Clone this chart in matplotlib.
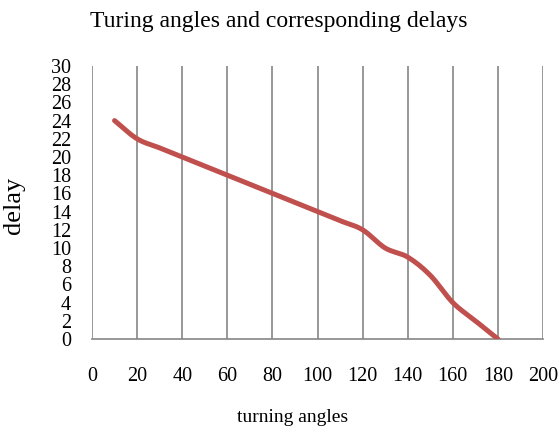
import numpy as np
import matplotlib.pyplot as plt

plt.rcParams['font.family'] = ['Liberation Serif', 'DejaVu Serif']

# data
angles = [10, 20, 30, 40, 50, 60, 70, 80, 90, 100, 110, 120, 130, 140, 150, 160, 170, 180]
delays = [24, 22, 21, 20, 19, 18, 17, 16, 15, 14, 13, 12, 10, 9, 7, 4, 2, 0]
xticks = list(range(0, 201, 20))
yticks = list(range(0, 31, 2))


def smooth(x, y, n=20):
    # Catmull-Rom style curve through the points (like a spreadsheet smoothed line)
    x = np.asarray(x, float); y = np.asarray(y, float)
    px = np.concatenate([[2*x[0]-x[1]], x, [2*x[-1]-x[-2]]])
    py = np.concatenate([[2*y[0]-y[1]], y, [2*y[-1]-y[-2]]])
    xs, ys = [], []
    t = np.linspace(0, 1, n, endpoint=False)
    for i in range(1, len(px) - 2):
        for p, out in ((px, xs), (py, ys)):
            p0, p1, p2, p3 = p[i-1], p[i], p[i+1], p[i+2]
            out.extend(0.5*((2*p1) + (-p0+p2)*t + (2*p0-5*p1+4*p2-p3)*t**2
                            + (-p0+3*p1-3*p2+p3)*t**3))
    xs.append(x[-1]); ys.append(y[-1])
    return np.array(xs), np.array(ys)


fig = plt.figure(figsize=(5.6, 4.28), dpi=100)
ax = fig.add_axes([92/560, 1-339/428, (543-92)/560, (339-66)/428])

for xv in xticks:
    ax.axvline(xv, color='#868686', lw=1.2, zorder=1)

sx, sy = smooth(angles, delays)
ax.plot(sx, sy, color='#C0504D', lw=3.6, solid_capstyle='round', zorder=3)

ax.set_xlim(0, 200)
ax.set_ylim(0, 30)
ax.set_xticks(xticks)
ax.set_yticks(yticks)
for s in ['top', 'right', 'left']:
    ax.spines[s].set_visible(False)
ax.spines['bottom'].set_color('#868686')
ax.spines['bottom'].set_linewidth(1.2)
ax.tick_params(length=0, labelsize=14.5)
ax.tick_params(axis='x', pad=20)
ax.tick_params(axis='y', pad=15)

ax.set_xlabel('turning angles', fontsize=14)
ax.xaxis.label.set_va('baseline')
ax.xaxis.set_label_coords((293-92)/451, (339-422)/273)
ax.set_ylabel('delay', fontsize=19)
ax.yaxis.label.set_va('center')
ax.yaxis.set_label_coords((14-92)/451, 0.49)
fig.text(90/560, 1-27/428, 'Turing angles and corresponding delays', fontsize=17)

fig.savefig('out.png', dpi=100)
